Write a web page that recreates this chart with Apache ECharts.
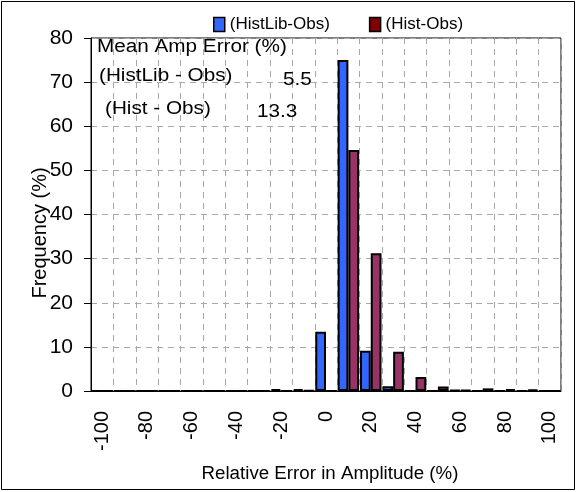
<!DOCTYPE html>
<html>
<head>
<meta charset="utf-8">
<script src="https://cdn.jsdelivr.net/npm/echarts@6/dist/echarts.min.js"></script>
<style>
html,body{margin:0;padding:0;background:#fff;}
#chart{width:582px;height:492px;}
</style>
</head>
<body>
<div id="chart"></div>
<script>
const categories = ['-100','-90','-80','-70','-60','-50','-40','-30','-20','-10','0','10','20','30','40','50','60','70','80','90','100'];
const histLibObs = [0,0,0,0,0,0,0,0,0.4,0.4,13.4,75,9.1,1.1,0,0,0.2,0,0,0,0];
const histObs    = [0,0,0,0,0,0,0,0,0,0.1,0,54.6,31.2,8.9,3.2,1.0,0.2,0.6,0.4,0.3,0];
const seriesNames = ['(HistLib-Obs)','(Hist-Obs)'];
const yMin = 0, yMax = 80, yStep = 10;
const annoTitle = 'Mean Amp Error (%)';
const annoLabels = ['(HistLib - Obs)','(Hist - Obs)'];
const annoValues = ['5.5','13.3'];
const xTitle = 'Relative Error in Amplitude (%)';
const yTitle = 'Frequency (%)';

const FONT = "'Liberation Sans', Arial, sans-serif";
const chart = echarts.init(document.getElementById('chart'), null, {renderer:'canvas'});
const txt = (text, x, y, size, align, sx) => ({
  type:'text', x:x, y:y, scaleX:(sx||1.15), z:100,
  style:{text:text, font: size+'px '+FONT, fill:'#000', textAlign:(align||'left'), textVerticalAlign:'middle'}
});

chart.setOption({
  animation:false,
  backgroundColor:'#fff',
  textStyle:{fontFamily:FONT},
  grid:{left:91, right:21, top:38, bottom:101, show:true, borderColor:'#000', borderWidth:1},
  legend:{
    left:208, top:11, itemWidth:11, itemHeight:14, itemGap:39, icon:'rect',
    textStyle:{fontSize:17, fontFamily:FONT, color:'#000'},
    data:[
      {name:seriesNames[0], itemStyle:{color:'#3366FF', borderColor:'#000', borderWidth:1.5}},
      {name:seriesNames[1], itemStyle:{color:'#800000', borderColor:'#000', borderWidth:1.5}}
    ]
  },
  xAxis:{
    type:'category', data:categories, boundaryGap:true,
    axisLine:{lineStyle:{color:'#000', width:1}},
    axisTick:{show:false},
    axisLabel:{interval:1, rotate:90, margin:20, fontSize:20, fontFamily:FONT, color:'#000'},
    splitLine:{show:true, interval:0, lineStyle:{color:'#a8a8a8', type:[6,5], width:1}}
  },
  yAxis:{
    type:'value', min:yMin, max:yMax, interval:yStep,
    axisLine:{show:true, lineStyle:{color:'#000', width:1}},
    axisTick:{show:true, length:7, lineStyle:{color:'#000'}},
    axisLabel:{margin:18, fontSize:21, fontFamily:FONT, color:'#000'},
    splitLine:{show:true, lineStyle:{color:'#a8a8a8', type:[6,5], width:1}}
  },
  series:[
    {name:seriesNames[0], type:'bar', data:histLibObs, barGap:'0%', barCategoryGap:'4%',
     itemStyle:{color:'#3366FF', borderColor:'#000', borderWidth:2}},
    {name:seriesNames[1], type:'bar', data:histObs, barGap:'0%', barCategoryGap:'4%',
     itemStyle:{color:'#993366', borderColor:'#000', borderWidth:2}}
  ],
  graphic:[
    {type:'rect', shape:{x:1.5, y:1.5, width:573, height:488}, style:{fill:'none', stroke:'#000', lineWidth:1}, z:0, silent:true},
    txt(annoTitle, 97, 47, 18),
    txt(annoLabels[0], 99, 76, 18),
    txt(annoValues[0], 283, 80, 18),
    txt(annoLabels[1], 105, 109, 18),
    txt(annoValues[1], 257, 112, 18),
    txt(xTitle, 330, 474, 18, 'center', 1.04),
    {type:'text', x:40, y:233, rotation:Math.PI/2, z:100,
     style:{text:yTitle, font:'20px '+FONT, fill:'#000', textAlign:'center', textVerticalAlign:'middle'}}
  ]
});
</script>
</body>
</html>
